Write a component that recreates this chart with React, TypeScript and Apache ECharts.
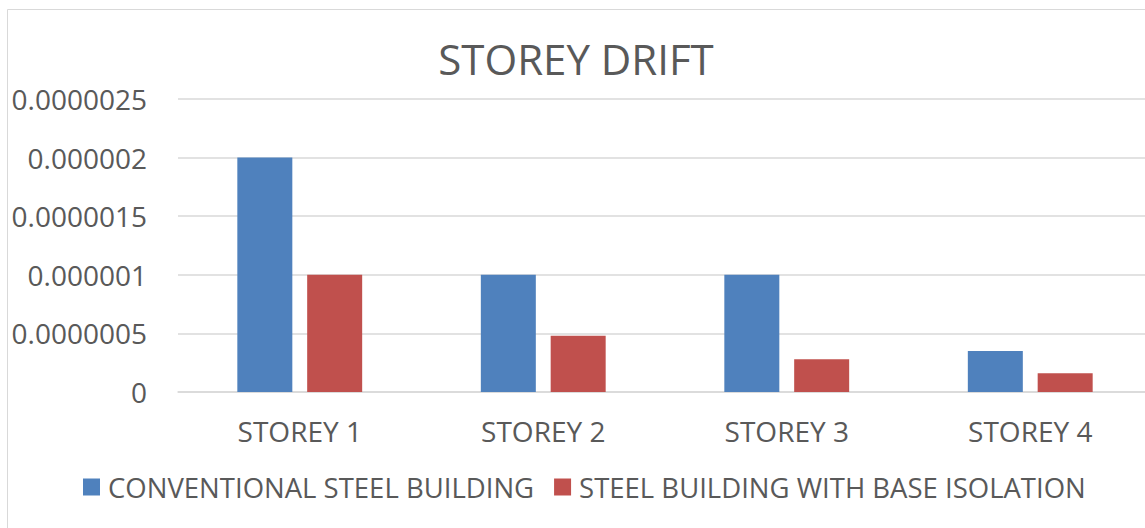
import React, { useEffect, useRef } from "react";
import * as echarts from "echarts";

const categories = ["STOREY 1", "STOREY 2", "STOREY 3", "STOREY 4"];
const conventional = [0.000002, 0.000001, 0.000001, 0.00000035];
const baseIsolation = [0.000001, 0.00000048, 0.00000028, 0.00000016];
const seriesNames = ["CONVENTIONAL STEEL BUILDING", "STEEL BUILDING WITH BASE ISOLATION"];
const yTicks = [0, 0.0000005, 0.000001, 0.0000015, 0.000002, 0.0000025];
const yLabelStrings = ["0", "0.0000005", "0.000001", "0.0000015", "0.000002", "0.0000025"];

const FONT = "'Open Sans', sans-serif";
const TEXT = "#595959";

export default function App() {
  const ref = useRef<HTMLDivElement>(null);
  useEffect(() => {
    if (!ref.current) return;
    const chart = echarts.init(ref.current, undefined, { renderer: "svg" });
    chart.setOption({
      animation: false,
      backgroundColor: "#ffffff",
      textStyle: { fontFamily: FONT },
      title: {
        text: "STOREY DRIFT",
        left: "center",
        top: 32,
        textStyle: { fontFamily: FONT, fontSize: 42, fontWeight: "normal", color: TEXT },
      },
      graphic: [
        {
          type: "rect",
          shape: { x: 7.5, y: 9.5, width: 1170, height: 540 },
          style: { fill: "none", stroke: "#D9D9D9", lineWidth: 1 },
          silent: true,
        },
      ],
      legend: {
        bottom: 22,
        left: 78,
        itemWidth: 17,
        itemHeight: 17,
        itemGap: 20,
        icon: "rect",
        textStyle: { fontFamily: FONT, fontSize: 27.5, color: TEXT, padding: [0, 0, 0, 3] },
        data: seriesNames,
      },
      grid: { left: 178, right: 0, top: 99, bottom: 136, containLabel: false },
      xAxis: {
        type: "category",
        data: categories,
        axisLine: { lineStyle: { color: "#D9D9D9", width: 1.5 } },
        axisTick: { show: false },
        axisLabel: { fontFamily: FONT, fontSize: 28, color: TEXT, margin: 25 },
      },
      yAxis: {
        type: "value",
        min: 0,
        max: 0.0000025,
        interval: 0.0000005,
        axisLine: { show: false },
        axisTick: { show: false },
        splitLine: { lineStyle: { color: "#D9D9D9", width: 1.5 } },
        axisLabel: {
          fontFamily: FONT,
          fontSize: 28,
          color: TEXT,
          margin: 31,
          formatter: (v: number) => {
            const i = yTicks.findIndex((t) => Math.abs(t - v) < 1e-12);
            return i >= 0 ? yLabelStrings[i] : String(v);
          },
        },
      },
      series: [
        {
          name: seriesNames[0],
          type: "bar",
          data: conventional,
          barWidth: 55,
          barGap: "27%",
          itemStyle: { color: "#4F81BD" },
        },
        {
          name: seriesNames[1],
          type: "bar",
          data: baseIsolation,
          barWidth: 55,
          itemStyle: { color: "#C0504D" },
        },
      ],
    });
    return () => chart.dispose();
  }, []);
  return (
    <div
      style={{
        position: "absolute",
        left: 0,
        top: 0,
        width: 1145,
        height: 528,
        overflow: "hidden",
      }}
    >
      <div ref={ref} style={{ width: 1152, height: 528 }} />
    </div>
  );
}
